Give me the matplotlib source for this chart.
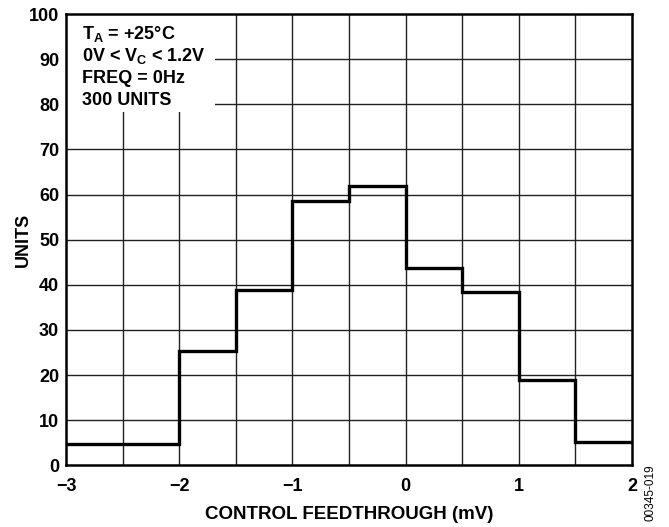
import matplotlib.pyplot as plt
from matplotlib.patches import Rectangle

plt.rcParams['font.family'] = ['Liberation Sans', 'DejaVu Sans']
plt.rcParams['font.weight'] = 'bold'
plt.rcParams['mathtext.fontset'] = 'custom'
plt.rcParams['mathtext.rm'] = 'Liberation Sans:bold'
plt.rcParams['mathtext.bf'] = 'Liberation Sans:bold'

# bin edges (mV) and unit counts per bin
bin_edges = [-3.0, -2.5, -2.0, -1.5, -1.0, -0.5, 0.0, 0.5, 1.0, 1.5, 2.0]
counts = [4.7, 4.7, 25.4, 38.9, 58.6, 61.9, 43.7, 38.4, 19.0, 5.1]
x_ticks = [-3, -2, -1, 0, 1, 2]
x_grid = [-2.5, -2, -1.5, -1, -0.5, 0, 0.5, 1, 1.5]
y_ticks = [0, 10, 20, 30, 40, 50, 60, 70, 80, 90, 100]
notes = [r'T$_\mathregular{A}$ = +25°C',
         r'0V < V$_\mathregular{C}$ < 1.2V',
         'FREQ = 0Hz',
         '300 UNITS']

fig = plt.figure(figsize=(6.69, 5.27), dpi=100)
ax = fig.add_axes([0.0987, 0.1170, 0.8460, 0.8564])

for xv in x_grid:
    ax.axvline(xv, color='#222222', lw=1.0, zorder=0.5)
for yv in y_ticks[1:-1]:
    ax.axhline(yv, color='#222222', lw=1.0, zorder=0.5)

# white box behind the conditions text
ax.add_patch(Rectangle((-3, 78.3), 1.32, 21.7, facecolor='white',
                       edgecolor='none', zorder=1))

ax.stairs(counts, bin_edges, color='black', lw=2.4, zorder=2, baseline=None)

for i, line in enumerate(notes):
    ax.text(-2.86, 95.6 - i * 4.95, line, fontsize=13, fontweight='bold',
            va='center', ha='left', zorder=3)

ax.set_xlim(-3, 2)
ax.set_ylim(0, 100)
ax.set_xticks(x_ticks)
ax.set_yticks(y_ticks)
ax.tick_params(length=0, labelsize=13)
ax.tick_params(axis='x', pad=9)
ax.tick_params(axis='y', pad=5)
for lab in ax.get_xticklabels() + ax.get_yticklabels():
    lab.set_fontweight('bold')
for sp in ax.spines.values():
    sp.set_linewidth(1.8)
    sp.set_zorder(4)

ax.set_xlabel('CONTROL FEEDTHROUGH (mV)', fontsize=13.5, fontweight='bold', labelpad=8)
ax.set_ylabel('UNITS', fontsize=13, fontweight='bold', labelpad=-2)

fig.text(0.972, 0.0645, '00345-019', rotation=90, fontsize=8.5, fontweight='normal',
         ha='center', va='center')

fig.savefig('out.png', dpi=100)
